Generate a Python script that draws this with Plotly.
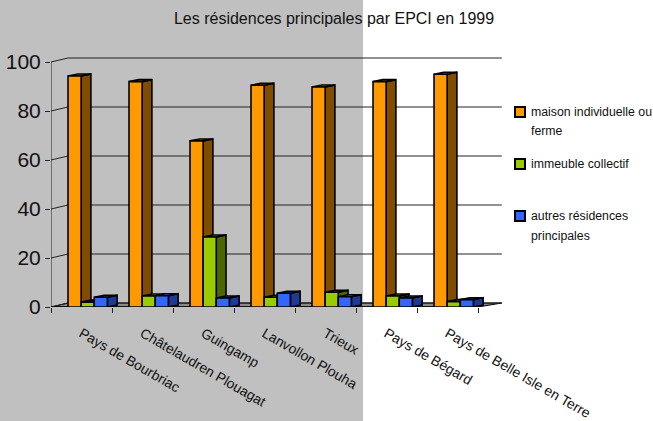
import plotly.graph_objects as go

# Share of main residences by dwelling type, per EPCI (1999, %)
categories = ["Pays de Bourbriac", "Châtelaudren Plouagat", "Guingamp",
              "Lanvollon Plouha", "Trieux", "Pays de Bégard",
              "Pays de Belle Isle en Terre"]
maison = [94.3, 92.0, 67.8, 90.5, 89.8, 92.0, 95.0]
immeuble = [2.0, 4.5, 28.6, 4.0, 6.0, 4.5, 2.2]
autres = [4.0, 4.6, 3.7, 5.6, 4.2, 3.7, 3.0]
series_names = ["maison individuelle ou ferme", "immeuble collectif",
                "autres résidences principales"]
y_ticks = [0, 20, 40, 60, 80, 100]

FONT = "Liberation Sans, Arial, sans-serif"

# pseudo-3D geometry (data units)
BAR_W = 0.215          # width of a bar's front face
DX, DY = 0.16, 0.8     # depth of the bar side / top faces
WALL_DX_L, WALL_DX_R, WALL_DY = 0.279, 0.39, 1.63   # floor / back wall depth
X_MIN, X_MAX = -0.5, 6.893
Y_MAX = 102.04

series = [
    (maison, -0.221, "#FF9900", "#7F4C00"),
    (immeuble, -0.006, "#99CC00", "#4C6600"),
    (autres, 0.209, "#3366FF", "#1F3A94"),
]

fig = go.Figure()

n = len(categories)
front_l, front_r = -0.5, n - 0.5

# floor
fig.add_trace(go.Scatter(
    x=[front_l, front_r, front_r + WALL_DX_R, front_l + WALL_DX_L, front_l],
    y=[0, 0, WALL_DY, WALL_DY, 0],
    mode="lines", fill="toself", fillcolor="#8A8A8A",
    line=dict(color="black", width=1), hoverinfo="skip", showlegend=False))

# back-wall grid lines with their slanted links to the front axis
gx, gy = [], []
for v in y_ticks:
    gx += [front_l, front_l + WALL_DX_L, front_r + WALL_DX_R, None]
    gy += [v, v + WALL_DY, v + WALL_DY, None]
fig.add_trace(go.Scatter(x=gx, y=gy, mode="lines",
                         line=dict(color="#222222", width=1),
                         hoverinfo="skip", showlegend=False))

# front value axis line
fig.add_trace(go.Scatter(x=[front_l, front_l], y=[0, y_ticks[-1]], mode="lines",
                         line=dict(color="#222222", width=1),
                         hoverinfo="skip", showlegend=False))

# front edge of the floor
fig.add_trace(go.Scatter(x=[front_l, front_r], y=[0, 0], mode="lines",
                         line=dict(color="black", width=1.5),
                         hoverinfo="skip", showlegend=False))


def bar_faces(values, left):
    fx, fy, sx, sy, tx, ty = [], [], [], [], [], []
    for i, v in enumerate(values):
        x0 = i + left
        x1 = x0 + BAR_W
        fx += [x0, x1, x1, x0, x0, None]
        fy += [0, 0, v, v, 0, None]
        sx += [x1, x1 + DX, x1 + DX, x1, x1, None]
        sy += [0, DY, v + DY, v, 0, None]
        tx += [x0, x1, x1 + DX, x0 + DX, x0, None]
        ty += [v, v, v + DY, v + DY, v, None]
    return (fx, fy), (sx, sy), (tx, ty)


edge = dict(color="black", width=1.6)
for values, left, light, dark in series:
    front, side, top = bar_faces(values, left)
    for (xs, ys), col in ((side, dark), (top, light), (front, light)):
        fig.add_trace(go.Scatter(x=xs, y=ys, mode="lines", fill="toself",
                                 fillcolor=col, line=edge,
                                 hoverinfo="skip", showlegend=False))

# plot area spans pixels x 51..502, y 57..307
L, R, T, B = 51, 151, 57, 114
PW, PH = 653 - L - R, 421 - T - B


def px_to_paper(px, py):
    return (px - L) / PW, (421 - B - py) / PH


shapes = []
# grey panel behind the left part of the chart
gx0, gy0 = px_to_paper(0, 421)
gx1, gy1 = px_to_paper(363, 0)
shapes.append(dict(type="rect", xref="paper", yref="paper", x0=gx0, x1=gx1,
                   y0=gy0, y1=gy1, fillcolor="#C0C0C0", line=dict(width=0),
                   layer="below"))

# legend
annotations = []
legend_rows = [
    (112, [(112, "maison individuelle ou"), (131, "ferme")]),
    (164, [(164, "immeuble collectif")]),
    (216, [(216, "autres résidences"), (236, "principales")]),
]
for (cy, lines), (_, _, light, _) in zip(legend_rows, series):
    x0, y0 = px_to_paper(515, cy + 5)
    x1, y1 = px_to_paper(525, cy - 5)
    shapes.append(dict(type="rect", xref="paper", yref="paper",
                       x0=x0, x1=x1, y0=y0, y1=y1, fillcolor=light,
                       line=dict(color="black", width=2)))
    for ly, txt in lines:
        ax, ay = px_to_paper(529, ly)
        annotations.append(dict(xref="paper", yref="paper", x=ax, y=ay,
                                text=txt, showarrow=False, xanchor="left",
                                yanchor="middle",
                                font=dict(family=FONT, size=12.3, color="#111111")))

fig.update_layout(
    width=653, height=421,
    margin=dict(l=L, r=R, t=T, b=B, autoexpand=False),
    paper_bgcolor="white", plot_bgcolor="rgba(0,0,0,0)",
    font=dict(family=FONT, color="black"),
    title=dict(text="Les résidences principales par EPCI en 1999",
               x=(334 - L) / PW, xref="paper", xanchor="center",
               y=1 - 18 / 421, yref="container", yanchor="middle",
               font=dict(family=FONT, size=16, color="#111111")),
    xaxis=dict(range=[X_MIN, X_MAX], tickmode="array",
               tickvals=list(range(n)), ticktext=categories,
               tickangle=30, ticks="", ticklabelstandoff=15,
               automargin=False,
               tickfont=dict(family=FONT, size=13.9, color="#111111"),
               showgrid=False, zeroline=False, showline=False,
               minor=dict(tickmode="array",
                          tickvals=[i - 0.5 for i in range(n + 1)],
                          ticks="outside", ticklen=5, tickcolor="#222222",
                          tickwidth=1, showgrid=False)),
    yaxis=dict(range=[0, Y_MAX], tickmode="array", tickvals=y_ticks,
               ticks="outside", ticklen=5, tickcolor="#222222",
               automargin=False,
               tickfont=dict(family=FONT, size=21, color="#111111"),
               showgrid=False, zeroline=False, showline=False),
    shapes=shapes, annotations=annotations,
    showlegend=False,
)

fig.write_html("out.html")
